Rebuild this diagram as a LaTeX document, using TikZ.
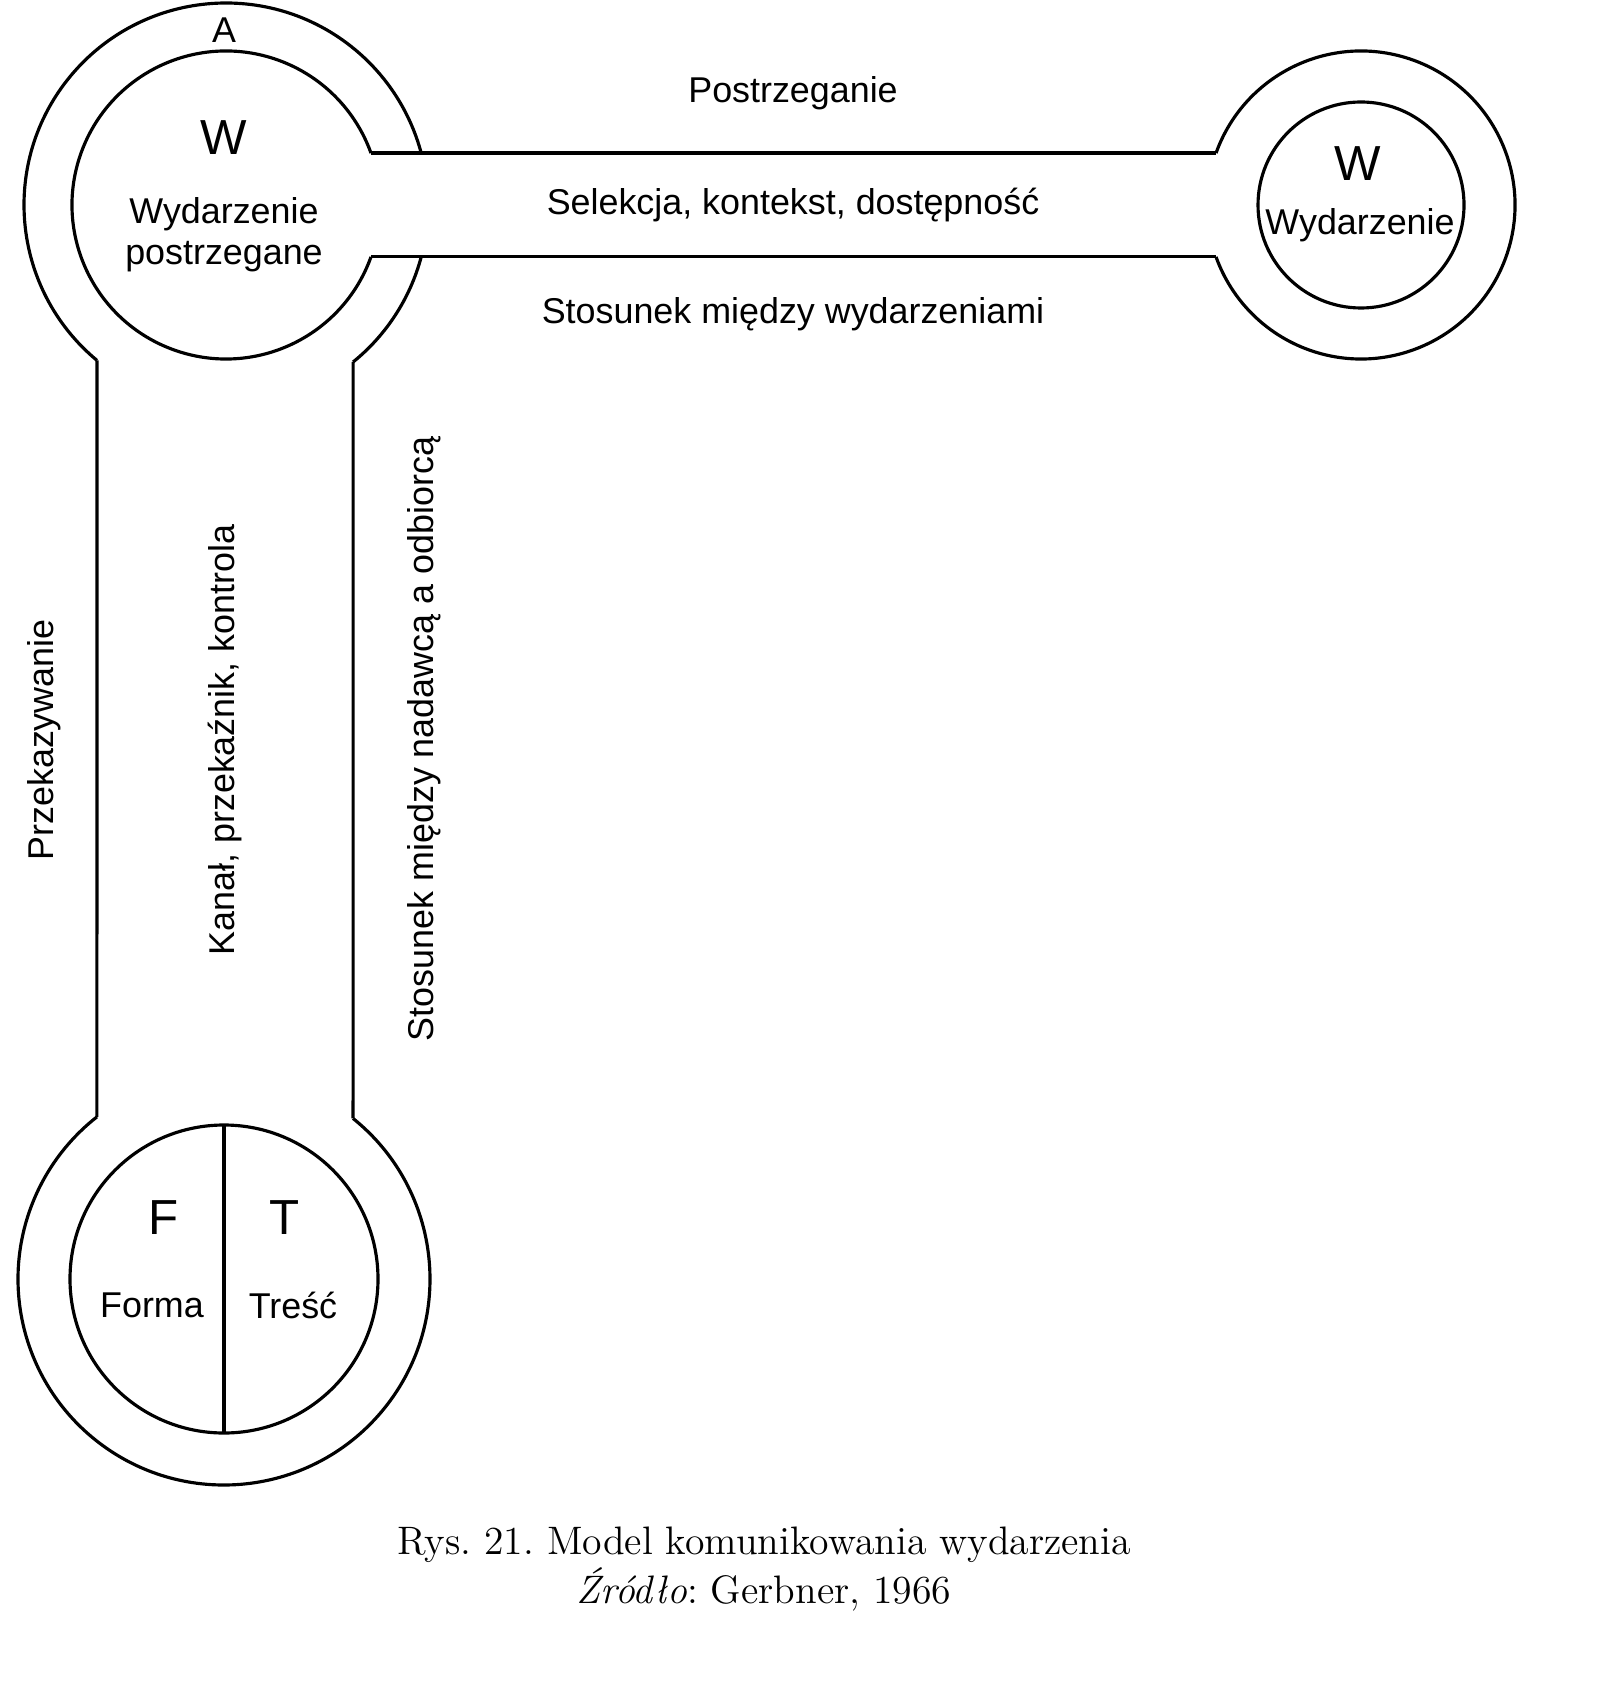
\documentclass[tikz,border=0pt]{standalone}
\usepackage{fontspec}
\setsansfont{Liberation Sans}
\usetikzlibrary{calc}

\begin{document}
\begin{tikzpicture}[x=0.01cm,y=-0.01cm,
  ring/.style={line width=0.9pt},
  lbl/.style={font=\sffamily\fontsize{10.2}{11.7}\selectfont,inner sep=0pt},
  sym/.style={font=\sffamily\fontsize{14}{16}\selectfont,inner sep=0pt},
  caption/.style={font=\frenchspacing\fontsize{11.3}{13}\selectfont,inner sep=0pt}]
\useasboundingbox (0,0) rectangle (1617,1695);
% ring centres
\coordinate (pc) at (226,205);
\coordinate (ec) at (1361,205);
\coordinate (fc) at (224,1279);
% where the bands meet the rings
\coordinate (hTopL) at ($(pc)+(-19.7:154)$);
\coordinate (hBotL) at ($(pc)+(19.7:154)$);
\coordinate (hTopR) at ($(ec)+(199.7:154)$);
\coordinate (hBotR) at ($(ec)+(160.3:154)$);
\coordinate (vLeftT) at ($(pc)+(129.7:202)$);
\coordinate (vRightT) at ($(pc)+(51:202)$);
\coordinate (vLeftB) at ($(fc)+(231.9:206)$);
\coordinate (vRightB) at ($(fc)+(-51.2:206)$);
\coordinate (aGapT) at ($(pc)+(14.9:202)$);
\coordinate (divT) at ($(fc)+(0,-154)$);
\coordinate (divB) at ($(fc)+(0,154)$);

% perceived event with the A ring
\draw[ring] (hBotL) arc[start angle=19.7,end angle=340.3,radius=154];
\draw[ring] (aGapT) arc[start angle=14.9,end angle=51,radius=202];
\draw[ring] (vLeftT) arc[start angle=129.7,end angle=345.1,radius=202];
% horizontal band
\draw[ring] (hTopL) -- (hTopR);
\draw[ring] (hBotL) -- (hBotR);
% event ring
\draw[ring] (hTopR) arc[start angle=199.7,end angle=520.3,radius=154];
\draw[ring] (ec) circle[radius=103];
% vertical band
\draw[ring] (vLeftT) -- (vLeftB);
\draw[ring] (vRightT) -- (vRightB);
% form and content
\draw[ring] (vRightB) arc[start angle=-51.2,end angle=231.9,radius=206];
\draw[ring] (fc) circle[radius=154];
\draw[ring] (divT) -- (divB);

\node[lbl] (a) at (224,30) {A};
\node[sym] (w1) at (224,138) {W};
\node[lbl,align=center] (w1txt) at (224,235) {Wydarzenie\\postrzegane};
\node[lbl] (perc) at (793,93) {Postrzeganie};
\node[lbl] (sel) at (793,205) {Selekcja, kontekst, dostępność};
\node[lbl] (rel) at (793,314) {Stosunek między wydarzeniami};
\node[sym] (w2) at (1358,164) {W};
\node[lbl] (w2txt) at (1360,225) {Wydarzenie};
\node[lbl,rotate=90] (trans) at (44,740) {Przekazywanie};
\node[lbl,rotate=90] (chan) at (225,740) {Kanał, przekaźnik, kontrola};
\node[lbl,rotate=90] (sndr) at (424,739) {Stosunek między nadawcą a odbiorcą};
\node[sym] (f) at (164,1218) {F};
\node[sym] (t) at (285,1218) {T};
\node[lbl] (form) at (152,1305) {Forma};
\node[lbl] (cont) at (293,1305) {Treść};
\node[caption] (cap1) at (764,1545) {Rys. 21. Model komunikowania wydarzenia};
\node[caption] (cap2) at (764,1589) {\textit{Źródło}: Gerbner, 1966};
\end{tikzpicture}
\end{document}
